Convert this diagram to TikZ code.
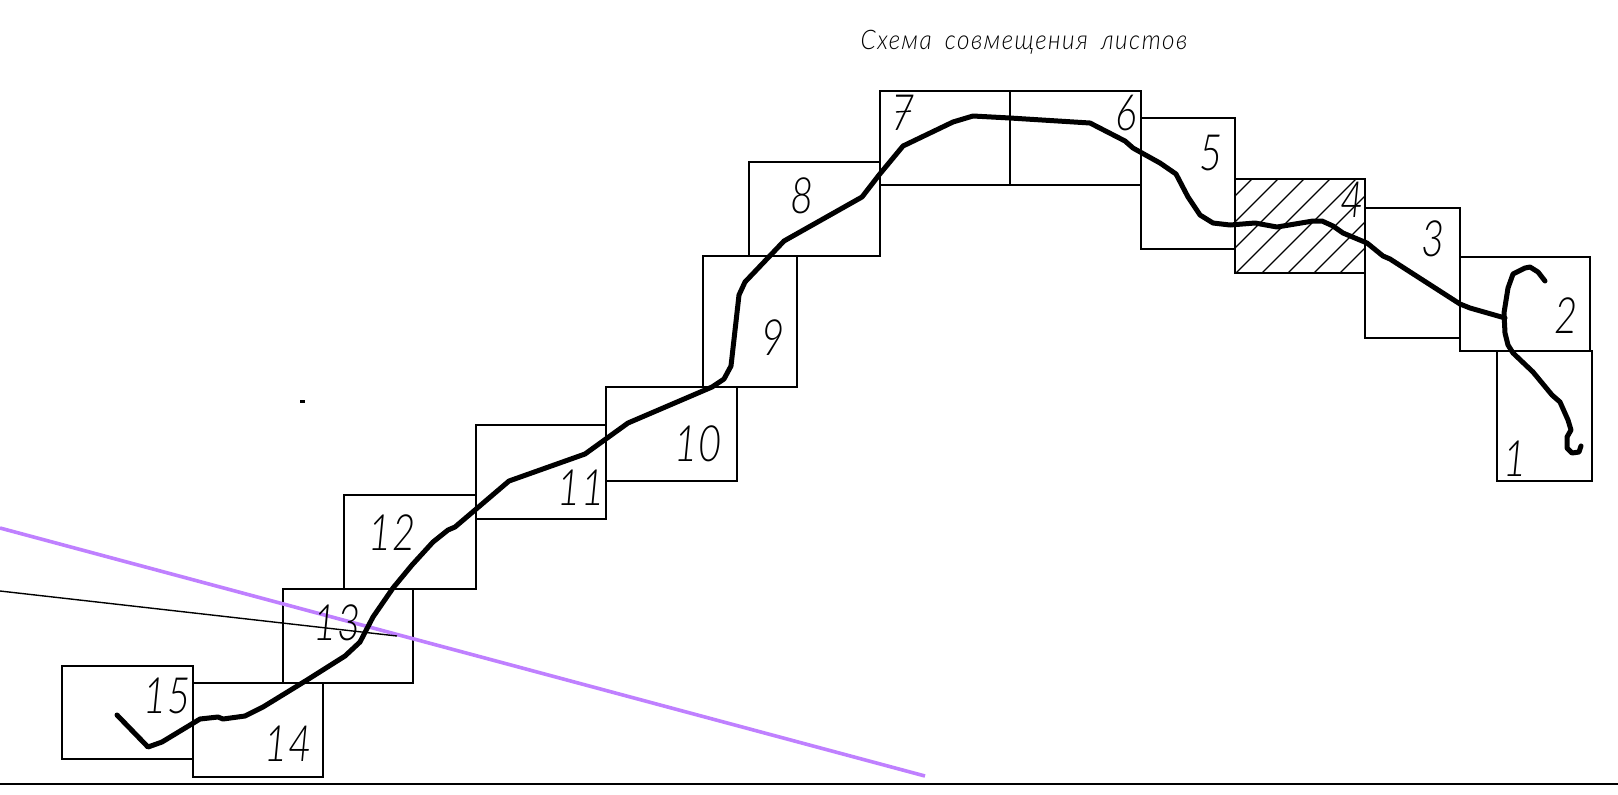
\documentclass[tikz,border=0pt]{standalone}
\usepackage{fontspec}
\setmainfont{Carlito}
\newfontfamily\thinfont{Lato Light}
\newcommand{\nrw}[1]{\scalebox{0.8}[1]{#1}}
\tikzset{
  sheet/.style={draw=black,line width=0.8pt},
  hatchline/.style={draw=black,line width=0.6pt},
  route/.style={draw=black,line width=2.5pt,line cap=round,line join=round},
  num/.style={font=\fontsize{25}{25}\selectfont\thinfont\itshape,inner sep=0pt,text=black},
  heading/.style={font=\fontsize{13.5}{14}\selectfont\thinfont\itshape,inner sep=0pt,text=black},
}
\definecolor{violetline}{HTML}{BF80FF}
\definecolor{baseline}{HTML}{303030}
\begin{document}
\begin{tikzpicture}[x=0.5pt,y=-0.5pt]
\useasboundingbox[fill=white] (0,0) rectangle (1618,794);
% hatching of sheet 4
\begin{scope}
\clip (1235,179) rectangle (1365,273);
\foreach \k in {-4,...,5}{
  \draw[hatchline] ({1236+26*\k},273) -- ({1236+26*\k+100},173);
}
\end{scope}
% sheets
\draw[sheet] (1497,351) rectangle (1592,481);
\draw[sheet] (1460,257) rectangle (1590,351);
\draw[sheet] (1365,208) rectangle (1460,338);
\draw[sheet] (1235,179) rectangle (1365,273);
\draw[sheet] (1141,118) rectangle (1235,249);
\draw[sheet] (880,91) rectangle (1141,185);
\draw[sheet] (1010,91) -- (1010,185);
\draw[sheet] (749,162) rectangle (880,256);
\draw[sheet] (703,256) rectangle (797,387);
\draw[sheet] (606,387) rectangle (737,481);
\draw[sheet] (476,425) rectangle (606,519);
\draw[sheet] (344,495) rectangle (476,589);
\draw[sheet] (283,589) rectangle (413,683);
\draw[sheet] (193,683) rectangle (323,777);
\draw[sheet] (62,666) rectangle (193,759);
% base line, violet and thin lines
\draw[baseline,line width=0.8pt] (0,784) -- (1618,784);
\draw[violetline,line width=1.8pt] (0,528) -- (925,776);
\draw[black,line width=0.7pt] (0,591) -- (397,636);
\fill[black] (300,400) rectangle (305,402.5);
% route
\draw[route] (117,715) -- (148,747) -- (162,742) -- (200,719) -- (218,717) -- (223,719) -- (245,716) -- (263,707) -- (307,680) -- (345,656) -- (360,642) -- (373,617) -- (393,588) -- (412,565) -- (433,542) -- (448,530) -- (455,527) -- (475,510) -- (509,481) -- (585,454) -- (628,423) -- (712,387) -- (724,379) -- (731,366) -- (739,295) -- (745,282) -- (784,241) -- (862,197) -- (879,175) -- (903,146) -- (953,122) -- (973,116) -- (1010,118) -- (1090,123) -- (1125,141) -- (1133,148) -- (1160,163) -- (1176,174) -- (1188,197) -- (1200,215) -- (1213,223) -- (1230,225) -- (1255,223) -- (1277,227) -- (1313,221) -- (1322,221) -- (1333,226) -- (1343,233) -- (1367,243) -- (1383,256) -- (1390,259) -- (1460,304) -- (1470,308) -- (1505,318);
\draw[route] (1545,281) -- (1538,272) -- (1530,267) -- (1525,268) -- (1513,274) -- (1508,288) -- (1504,313) -- (1505,333) -- (1508,345) -- (1513,353) -- (1533,372) -- (1552,395) -- (1560,402) -- (1568,420) -- (1571,430) -- (1567,437) -- (1567,448) -- (1572,453) -- (1579,452) -- (1581,446);
% labels
\node[num] (n1) at (1515,459) {\nrw{1}};
\node[num] (n2) at (1566,316) {\nrw{2}};
\node[num] (n3) at (1433,239) {\nrw{3}};
\node[num] (n4) at (1352,200) {\nrw{4}};
\node[num] (n5) at (1211,153) {\nrw{5}};
\node[num] (n6) at (1126,113) {\nrw{6}};
\node[num] (n7) at (903,113) {\nrw{7}};
\node[num] (n8) at (802,196) {\nrw{8}};
\node[num] (n9) at (773,338) {\nrw{9}};
\node[num] (n10) at (698,444) {\nrw{10}};
\node[num] (n11) at (581,488) {\nrw{11}};
\node[num] (n12) at (392,533) {\nrw{12}};
\node[num] (n13) at (337,623) {\nrw{13}};
\node[num] (n14) at (288,744) {\nrw{14}};
\node[num] (n15) at (167,696) {\nrw{15}};
\draw[black,line width=0.7pt] (n7.center)++(-7,-1) -- ++(15,-1);
\node[heading] (title) at (1024,42) {\scalebox{0.9}[1]{\addfontfeature{LetterSpace=6}Схема\hspace{3pt} совмещения\hspace{3pt} листов}};
\end{tikzpicture}
\end{document}
